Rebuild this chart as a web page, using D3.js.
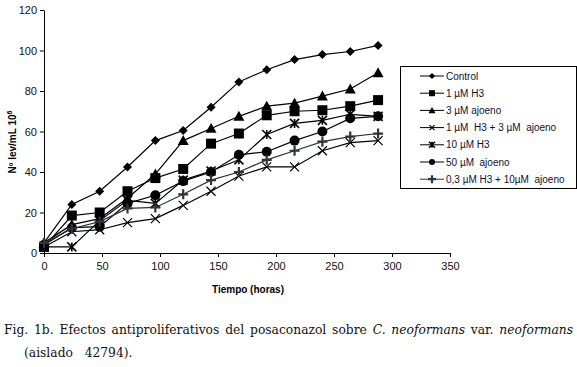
<!DOCTYPE html>
<html>
<head>
<meta charset="utf-8">
<script src="https://cdn.jsdelivr.net/npm/d3@7"></script>
<style>
  body { margin: 0; background: #fff; }
  svg { display: block; }
</style>
</head>
<body>
<div class="canvas"></div>
<script>
// data
const hours = [0, 24, 48, 72, 96, 120, 144, 168, 192, 216, 240, 264, 288]
const control = [5, 24, 30.5, 42.5, 55.5, 60.5, 72, 84.5, 90.5, 95.5, 98, 99.5, 102.5]
const h3_1 = [3, 18.5, 20, 30.5, 37, 41.5, 54, 59, 68, 70, 70.5, 72.5, 75.5]
const ajo_3 = [5, 14, 17, 27, 39, 55.5, 61.5, 67.5, 72.5, 74, 77.5, 81, 89]
const h3_1_ajo_3 = [3, 10.5, 11.5, 15, 17, 23.5, 30.5, 38, 42.5, 42.5, 50.5, 54.5, 55.5]
const h3_10 = [3, 3, 16, 26, 24.5, 36, 40.5, 46, 58.5, 64, 65.5, 68.5, 67.5]
const ajo_50 = [4, 12.5, 13, 24.5, 28.5, 35.5, 40, 48.5, 50, 55.5, 60, 66.5, 67.5]
const h3_03_ajo_10 = [5, 12, 15.5, 22, 22.5, 29, 36, 40, 46, 50.5, 55, 57.5, 59]

const seriesNames = ['Control', '1 µM H3', '3 µM ajoeno', '1 µM  H3 + 3 µM  ajoeno',
  '10 µM H3', '50 µM  ajoeno', '0,3 µM H3 + 10µM  ajoeno']
const seriesValues = [control, h3_1, ajo_3, h3_1_ajo_3, h3_10, ajo_50, h3_03_ajo_10]
const markerTypes = ['diamond', 'square', 'triangle', 'x', 'asterisk', 'circle', 'plus']

const xTicks = [0, 50, 100, 150, 200, 250, 300, 350]
const yTicks = [0, 20, 40, 60, 80, 100, 120]

// layout
const dims = { width: 577, height: 367 }
const plot = { left: 44, right: 450, top: 10, bottom: 253 }

const svg = d3.select('.canvas')
  .append('svg')
  .attr('width', dims.width)
  .attr('height', dims.height)

const x = d3.scaleLinear().domain([0, 350]).range([plot.left, plot.right])
const y = d3.scaleLinear().domain([0, 120]).range([plot.bottom, plot.top])

const tickFont = 'Liberation Sans, Arial, sans-serif'

// axes
const xAxis = svg.append('g')
  .attr('transform', `translate(0, ${plot.bottom})`)
  .call(d3.axisBottom(x).tickValues(xTicks).tickSize(4).tickSizeOuter(0).tickPadding(5))
const yAxis = svg.append('g')
  .attr('transform', `translate(${plot.left}, 0)`)
  .call(d3.axisLeft(y).tickValues(yTicks).tickSize(4).tickSizeOuter(0).tickPadding(3))

;[xAxis, yAxis].forEach(a => {
  a.selectAll('path, line').attr('stroke', '#000').attr('stroke-width', 1)
  a.selectAll('text')
    .attr('fill', '#111')
    .style('font-family', tickFont)
    .style('font-size', '11px')
})

// axis titles
svg.append('text')
  .attr('x', 248).attr('y', 293)
  .attr('text-anchor', 'middle')
  .style('font-family', tickFont)
  .style('font-size', '10px')
  .style('font-weight', 'bold')
  .text('Tiempo (horas)')

const yTitle = svg.append('text')
  .attr('transform', 'translate(16, 142) rotate(-90)')
  .attr('text-anchor', 'middle')
  .style('font-family', tickFont)
  .style('font-size', '10px')
  .style('font-weight', 'bold')
yTitle.append('tspan').text('Nº lev/mL 10')
yTitle.append('tspan').attr('dy', -4).style('font-size', '7px').text('6')

// markers
const drawMarker = (g, type, cx, cy, s, colour) => {
  const h = s / 2
  switch (type) {
    case 'diamond':
      g.append('path').attr('d', `M${cx},${cy - h}L${cx + h},${cy}L${cx},${cy + h}L${cx - h},${cy}Z`)
        .attr('fill', colour)
      break
    case 'square':
      g.append('rect').attr('x', cx - h).attr('y', cy - h).attr('width', s).attr('height', s)
        .attr('fill', colour)
      break
    case 'triangle':
      g.append('path').attr('d', `M${cx},${cy - h}L${cx + h},${cy + h * 0.8}L${cx - h},${cy + h * 0.8}Z`)
        .attr('fill', colour)
      break
    case 'circle':
      g.append('circle').attr('cx', cx).attr('cy', cy).attr('r', h).attr('fill', colour)
      break
    case 'x':
      g.append('path').attr('d', `M${cx - h},${cy - h}L${cx + h},${cy + h}M${cx - h},${cy + h}L${cx + h},${cy - h}`)
        .attr('stroke', colour).attr('stroke-width', 1.2)
      break
    case 'asterisk':
      g.append('path').attr('d', `M${cx - h},${cy - h}L${cx + h},${cy + h}M${cx - h},${cy + h}L${cx + h},${cy - h}M${cx},${cy - h}L${cx},${cy + h}`)
        .attr('stroke', colour).attr('stroke-width', 1.6)
      break
    case 'plus':
      g.append('path').attr('d', `M${cx - h},${cy}L${cx + h},${cy}M${cx},${cy - h}L${cx},${cy + h}`)
        .attr('stroke', colour).attr('stroke-width', 2.2)
      break
    default:
      break
  }
}

const markerSize = { diamond: 9, square: 10, triangle: 11, circle: 10, x: 9, asterisk: 9, plus: 10 }
const legendSize = { diamond: 6, square: 6, triangle: 7, circle: 6, x: 5, asterisk: 6, plus: 8 }
const seriesColour = ['#000', '#000', '#000', '#000', '#000', '#000', '#2b3636']

const line = d3.line()
  .x((d, i) => x(hours[i]))
  .y(d => y(d))

seriesValues.forEach((vals, k) => {
  const g = svg.append('g')
  g.append('path')
    .attr('d', line(vals))
    .attr('fill', 'none')
    .attr('stroke', seriesColour[k])
    .attr('stroke-width', 1.2)
  vals.forEach((v, i) => drawMarker(g, markerTypes[k], x(hours[i]), y(v), markerSize[markerTypes[k]], seriesColour[k]))
})

// legend
const legend = svg.append('g')
legend.append('rect')
  .attr('x', 400.5).attr('y', 66.5)
  .attr('width', 176).attr('height', 122)
  .attr('fill', '#fff').attr('stroke', '#000').attr('stroke-width', 1)

seriesNames.forEach((name, k) => {
  const cy = 76 + k * 17.2
  legend.append('line')
    .attr('x1', 420).attr('x2', 444).attr('y1', cy).attr('y2', cy)
    .attr('stroke', seriesColour[k]).attr('stroke-width', 1)
  drawMarker(legend, markerTypes[k], 432, cy, legendSize[markerTypes[k]], seriesColour[k])
  legend.append('text')
    .attr('x', 446).attr('y', cy + 3.6)
    .attr('fill', '#0d1030')
    .style('font-family', tickFont)
    .style('font-size', '10px')
    .style('white-space', 'pre')
    .text(name)
})

// caption, first line justified word by word
const capFont = 'DejaVu Serif, Liberation Serif, serif'
const capLine1 = [
  { t: 'Fig.', i: false }, { t: '1b.', i: false }, { t: 'Efectos', i: false },
  { t: 'antiproliferativos', i: false }, { t: 'del', i: false }, { t: 'posaconazol', i: false },
  { t: 'sobre', i: false }, { t: 'C.', i: true }, { t: 'neoformans', i: true },
  { t: 'var.', i: false }, { t: 'neoformans', i: true }
]
const cap = svg.append('g')
  .style('font-family', capFont)
  .style('font-size', '12.3px')
  .attr('fill', '#111')
const words = capLine1.map(w => cap.append('text')
  .attr('y', 334)
  .style('font-style', w.i ? 'italic' : 'normal')
  .text(w.t))
const widths = words.map(w => w.node().getComputedTextLength())
const lineStart = 4, lineEnd = 573
const gap = (lineEnd - lineStart - d3.sum(widths)) / (words.length - 1)
let cursor = lineStart
words.forEach((w, i) => {
  w.attr('x', cursor)
  cursor += widths[i] + gap
})
cap.append('text')
  .attr('x', 24).attr('y', 357)
  .style('white-space', 'pre')
  .text('(aislado   42794).')
</script>
</body>
</html>
